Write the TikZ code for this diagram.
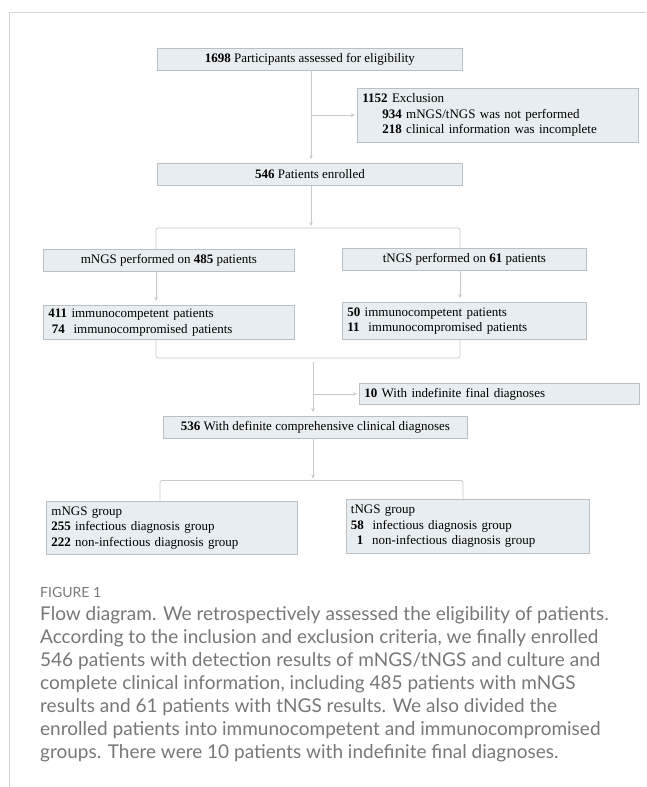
\documentclass[tikz,border=0pt]{standalone}
\usepackage{fontspec}
\setmainfont{Liberation Serif}
\newfontfamily\capfont{Lato}
\usetikzlibrary{arrows.meta}
\definecolor{boxfill}{HTML}{E7EDF0}
\definecolor{boxline}{HTML}{B9BFC3}
\definecolor{linkgray}{HTML}{C8C8C8}
\definecolor{framegray}{HTML}{D4D4D4}
\definecolor{capgray}{HTML}{777777}
\tikzset{
  box/.style={draw=boxline, fill=boxfill, line width=0.8pt, anchor=north west, inner xsep=5pt, inner ysep=0pt, font=\fontsize{13}{15.5}\selectfont},
  link/.style={draw=linkgray, line width=0.8pt},
  flow/.style={link, -{Stealth[length=4pt,width=3.5pt]}, shorten >=4pt},
}

\begin{document}
\begin{tikzpicture}[x=1pt, y=-1pt]
	\useasboundingbox (0,0) rectangle (646,787);
	\draw[framegray, line width=0.8pt] (646,12) -- (9,12) -- (9,787);
	% boxes
	\node[box, minimum width=305pt, minimum height=21.5pt] (n1698) at (157,48) {\textbf{1698} Participants assessed for eligibility};
	\node[box, text width=271pt, minimum height=53.5pt, align=left] (excl) at (357,88) {\textbf{1152} Exclusion\\\hspace*{20pt}\textbf{934} mNGS/tNGS was not performed\\\hspace*{20pt}\textbf{218} clinical information was incomplete};
	\node[box, minimum width=305pt, minimum height=22pt] (n546) at (157,163) {\textbf{546} Patients enrolled};
	\node[box, minimum width=251pt, minimum height=22pt] (mngs) at (43,249) {mNGS performed on \textbf{485} patients};
	\node[box, minimum width=244pt, minimum height=21.5pt] (tngs) at (342,248) {tNGS performed on \textbf{61} patients};
	\node[box, text width=241pt, minimum height=34pt, align=left] (mimm) at (43,305) {\textbf{411} immunocompetent patients\\\hspace*{3.5pt}\textbf{74}\ \ immunocompromised patients};
	\node[box, text width=234pt, minimum height=37pt, align=left] (timm) at (342,302) {\textbf{50} immunocompetent patients\\\textbf{11}\ \ immunocompromised patients};
	\node[box, text width=270pt, minimum height=21pt, align=left] (ind10) at (359,383) {\textbf{10} With indefinite final diagnoses};
	\node[box, minimum width=304pt, minimum height=21.5pt] (n536) at (163,416) {\textbf{536} With definite comprehensive clinical diagnoses};
	\node[box, text width=241pt, minimum height=53.5pt, align=left] (mgrp) at (46,500.5) {mNGS group\\\textbf{255} infectious diagnosis group\\\textbf{222} non-infectious diagnosis group};
	\node[box, text width=233pt, minimum height=53.5pt, align=left] (tgrp) at (345.5,499) {tNGS group\\\textbf{58}\ \ infectious diagnosis group\\\hspace*{6pt}\textbf{1}\ \ non-infectious diagnosis group};
	% connectors
	\coordinate (s1) at (311,0);
	\coordinate (b1l) at (156,228); \coordinate (b1r) at (460,228);
	\coordinate (b2l) at (156,358); \coordinate (b2r) at (460,358);
	\coordinate (b2s) at (313,361.5);
	\coordinate (b3l) at (160,480.5); \coordinate (b3r) at (463,480.5);
	\draw[flow] (n1698.south -| s1) -- (n546.north -| s1);
	\draw[flow, shorten >=2pt] (s1 |- excl.west) -- (excl.west);
	\draw[flow, shorten >=2pt] (n546.south -| s1) -- (s1 |- b1l);
	\draw[link, rounded corners=2pt] (mngs.north -| b1l) -- (b1l) -- (b1r) -- (tngs.north -| b1r);
	\draw[flow] (mngs.south -| b1l) -- (mimm.north -| b1l);
	\draw[flow] (tngs.south -| b1r) -- (timm.north -| b1r);
	\draw[link, rounded corners=2pt] (mimm.south -| b2l) -- (b2l) -- (b2r) -- (timm.south -| b2r);
	\draw[flow] (b2s) -- (n536.north -| b2s);
	\draw[flow, shorten >=2pt] (b2s |- ind10.west) -- (ind10.west);
	\draw[flow, shorten >=2pt] (n536.south -| b2s) -- (b2s |- b3l);
	\draw[link, rounded corners=2pt] (mgrp.north -| b3l) -- (b3l) -- (b3r) -- (tgrp.north -| b3r);
	% caption
	\node[anchor=west, inner sep=0pt, font=\capfont\fontsize{14}{16}\selectfont, text=capgray] (figlab) at (40,592) {FIGURE 1};
	\node[anchor=north west, inner sep=0pt, align=left, font=\capfont\fontsize{19}{23}\selectfont, text=capgray] (cap) at (40,606) {Flow diagram. We retrospectively assessed the eligibility of patients.\\According to the inclusion and exclusion criteria, we finally enrolled\\546 patients with detection results of mNGS/tNGS and culture and\\complete clinical information, including 485 patients with mNGS\\results and 61 patients with tNGS results. We also divided the\\enrolled patients into immunocompetent and immunocompromised\\groups. There were 10 patients with indefinite final diagnoses.};
\end{tikzpicture}
\end{document}
